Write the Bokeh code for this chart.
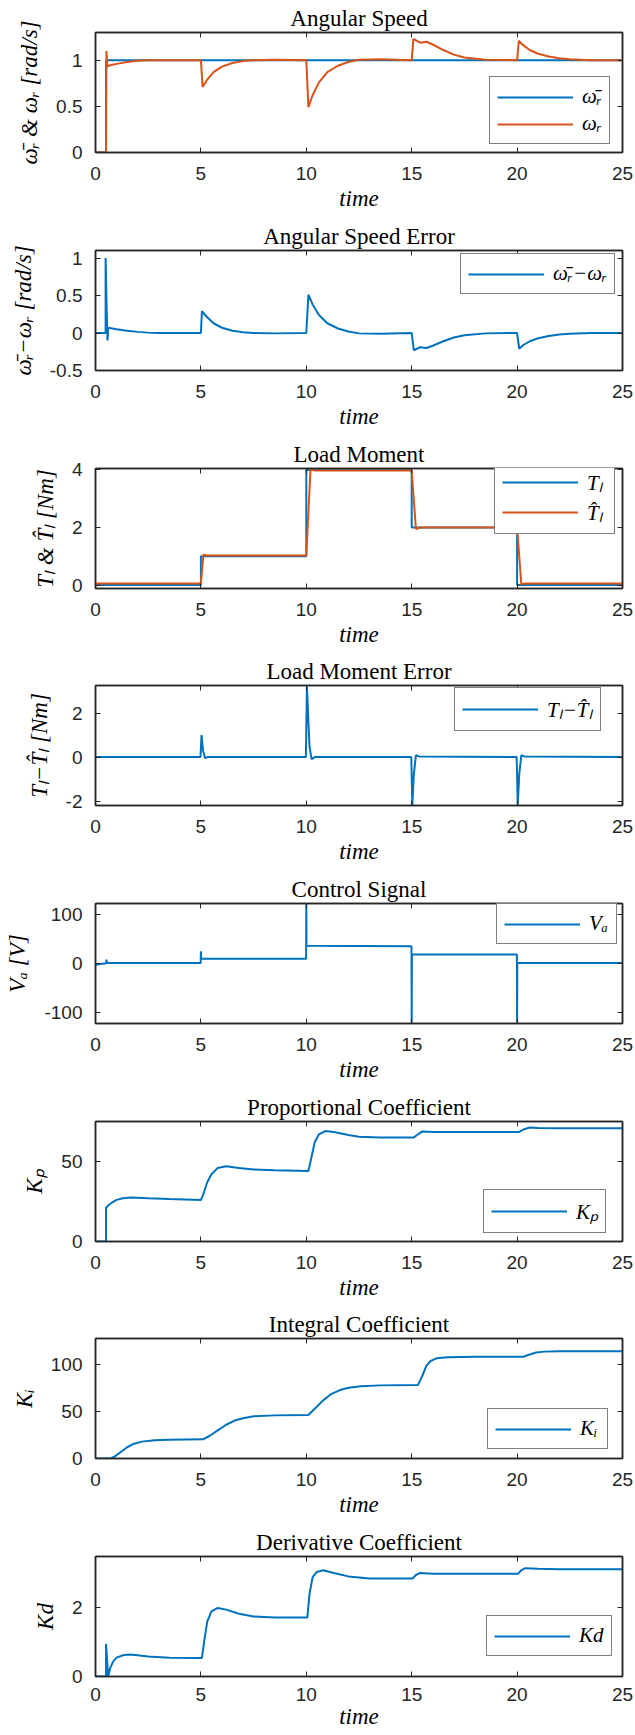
from bokeh.plotting import figure
from bokeh.models import Range1d, FixedTicker, LinearAxis, Legend, LegendItem
from bokeh.layouts import column
from bokeh.embed import file_html
from bokeh.resources import INLINE

BLUE = "#0072BD"
ORANGE = "#D95319"
AX = "#262626"

x_ticks = [0, 5, 10, 15, 20, 25]
x_tick_labels = ["0", "5", "10", "15", "20", "25"]

# ---------------- Panel 1: angular speed ----------------
t_wref = [0, 0.5, 0.5, 25]
wref = [0, 0, 1, 1]
t_w = [0, 0.5, 0.52, 0.56, 0.62, 0.8, 1.0, 1.5, 2.0, 2.5, 3.0, 5.0, 5.08, 5.3, 5.6, 6.0, 6.5, 7.0, 7.5, 8.5,
       10.0, 10.1, 10.3, 10.6, 11.0, 11.5, 12.0, 12.5, 13.5, 15.0, 15.08, 15.4, 15.7, 16.0, 16.5, 17.0, 17.5, 18.5,
       20.0, 20.08, 20.3, 20.6, 21.0, 21.5, 22.0, 22.5, 23.5, 25]
w = [0, 0, 1.1, 0.93, 0.94, 0.95, 0.96, 0.98, 0.995, 1.0, 1.0, 1.0, 0.71, 0.79, 0.87, 0.93, 0.97, 0.99, 1.0, 1.005,
     1.0, 0.49, 0.62, 0.76, 0.87, 0.94, 0.98, 1.005, 1.01, 1.0, 1.23, 1.19, 1.2, 1.17, 1.11, 1.06, 1.03, 1.005,
     1.0, 1.21, 1.16, 1.11, 1.07, 1.04, 1.02, 1.01, 1.0, 1.0]

# ---------------- Panel 2: angular speed error ----------------
t_we = [0, 0.48, 0.48, 0.53, 0.57, 0.6, 0.8, 1.0, 1.5, 2.0, 2.5, 3.0, 5.0, 5.05, 5.3, 5.6, 6.0, 6.5, 7.0, 7.5, 8.5,
        10.0, 10.1, 10.3, 10.6, 11.0, 11.5, 12.0, 12.5, 13.5, 15.0, 15.1, 15.4, 15.7, 16.0, 16.5, 17.0, 17.5, 18.5,
        20.0, 20.1, 20.3, 20.6, 21.0, 21.5, 22.0, 22.5, 23.5, 25]
we = [0, 0, 1.0, 0.3, -0.1, 0.07, 0.06, 0.05, 0.03, 0.015, 0.005, 0, 0, 0.29, 0.21, 0.13, 0.07, 0.03, 0.01, 0, -0.005,
      0, 0.51, 0.38, 0.24, 0.13, 0.06, 0.02, -0.005, -0.01, 0, -0.23, -0.19, -0.2, -0.17, -0.11, -0.06, -0.03, -0.005,
      0, -0.21, -0.16, -0.11, -0.07, -0.04, -0.02, -0.01, 0, 0]

# ---------------- Panel 3: load moment ----------------
t_TL = [0, 5, 5, 10, 10, 15, 15, 20, 20, 25]
TL = [0, 0, 1, 1, 4, 4, 2, 2, 0, 0]
t_TLh = [0, 5.0, 5.12, 5.3, 10.0, 10.2, 10.4, 15.0, 15.2, 15.4, 20.0, 20.2, 20.4, 25]
TLh = [0.05, 0.05, 1.05, 1.03, 1.03, 4.02, 3.98, 3.98, 1.95, 2.0, 2.0, 0.03, 0.05, 0.05]

# ---------------- Panel 4: load moment error ----------------
t_TLe = [0, 4.98, 5.03, 5.1, 5.2, 5.3, 9.98, 10.03, 10.15, 10.25, 10.4, 14.98, 15.03, 15.1, 15.2, 15.35,
         19.98, 20.03, 20.1, 20.2, 20.35, 25]
TLe = [0, 0, 1.0, 0.3, -0.05, 0, 0, 3.2, 0.5, -0.1, 0, 0, -2.2, -0.8, 0.08, 0.03,
       0, -2.2, -0.8, 0.08, 0.03, 0]

# ---------------- Panel 5: control signal ----------------
t_Va = [0, 0.2, 0.45, 0.5, 0.52, 0.55, 0.6, 1.0, 4.99, 5.0, 5.01, 5.05, 9.99, 10.0, 10.01, 10.05, 12.5, 14.99,
        15.0, 15.01, 15.05, 19.99, 20.0, 20.01, 20.05, 25]
Va = [-3, -1, 0, 0, 8, 1, 1, 1, 1, 25, 10, 9.5, 9.5, 123, 37, 36.5, 36, 35.5,
      -123, 19, 18.5, 18.5, -123, 1, 1, 1]

# ---------------- Panel 6: proportional coefficient ----------------
t_Kp = [0, 0.5, 0.5, 0.6, 0.8, 1.0, 1.3, 1.7, 2.5, 3.5, 5.0, 5.1, 5.3, 5.5, 5.8, 6.2, 6.8, 7.5, 8.5,
        10.1, 10.2, 10.4, 10.6, 10.9, 11.3, 12.0, 12.5, 13.5, 15.1, 15.3, 15.5, 16.0, 17.0,
        20.1, 20.3, 20.6, 21.0, 22.0, 25]
Kp = [0, 0, 21, 22.5, 24.5, 26, 27, 27.5, 27, 26.5, 26, 29, 37, 42, 46, 47, 46, 45, 44.5,
      44, 50, 62, 67, 69, 68.5, 66.5, 65.5, 65, 65, 67, 68.8, 68.5, 68.5,
      68.5, 70, 71.2, 71, 70.8, 70.8]

# ---------------- Panel 7: integral coefficient ----------------
t_Ki = [0, 0.7, 0.9, 1.2, 1.5, 1.8, 2.2, 2.8, 3.5, 5.1, 5.4, 5.8, 6.2, 6.6, 7.0, 7.5, 8.5,
        10.1, 10.4, 10.8, 11.2, 11.6, 12.0, 12.6, 13.5, 15.3, 15.5, 15.7, 15.9, 16.2, 16.7, 18.0,
        20.3, 20.6, 20.9, 21.3, 22.0, 25]
Ki = [0, 0, 2, 7, 12, 15.5, 18, 19.5, 20, 20.5, 24, 30, 36, 40.5, 43, 45, 46,
      46.5, 53, 62, 69, 73, 75.5, 77, 78, 78.5, 88, 99, 104, 107, 108, 108.5,
      108.5, 111, 113, 114, 114.5, 114.5]

# ---------------- Panel 8: derivative coefficient ----------------
t_Kd = [0, 0.5, 0.5, 0.6, 0.7, 0.85, 1.0, 1.3, 1.6, 2.0, 2.5, 3.5, 5.05, 5.15, 5.3, 5.5, 5.8, 6.2, 6.8, 7.5, 8.5,
        10.05, 10.15, 10.3, 10.5, 10.8, 11.3, 12.0, 13.0, 15.05, 15.2, 15.4, 16.0, 17.0,
        20.05, 20.2, 20.4, 21.0, 22.0, 25]
Kd = [0, 0, 0.95, 0, 0.25, 0.45, 0.55, 0.62, 0.64, 0.62, 0.58, 0.55, 0.54, 1.0, 1.6, 1.9, 2.0, 1.95, 1.83, 1.75, 1.72,
      1.72, 2.4, 2.9, 3.05, 3.1, 3.02, 2.92, 2.86, 2.86, 2.96, 3.02, 3.0, 3.0,
      3.0, 3.1, 3.16, 3.14, 3.13, 3.13]

FRAME_H = 120
TOP = 32


def style_axis(ax, ticks, labels, show, standoff):
    ax.ticker = FixedTicker(ticks=ticks)
    ax.major_label_overrides = {tk: (lb if show else "") for tk, lb in zip(ticks, labels)}
    ax.major_tick_in = 5
    ax.major_tick_out = 0
    ax.minor_tick_in = 0
    ax.minor_tick_out = 0
    ax.major_tick_line_color = AX
    ax.major_tick_line_width = 1
    ax.axis_line_color = AX
    ax.axis_line_width = 1.5
    ax.major_label_text_font = "Liberation Sans"
    ax.major_label_text_font_size = "19px"
    ax.major_label_text_color = AX
    ax.major_label_standoff = standoff if show else 0


def make_panel(title, ylabel, ylim, yticks, ylabels, series, leg_xy, height, last=False):
    p = figure(width=634, height=height, x_range=Range1d(0, 25), y_range=Range1d(*ylim),
               output_backend="svg", toolbar_location=None,
               min_border_left=95, min_border_right=12, min_border_top=TOP,
               min_border_bottom=height - TOP - FRAME_H)
    p.grid.visible = False
    p.outline_line_color = AX
    p.outline_line_width = 1.5
    p.background_fill_color = "white"
    p.border_fill_color = "white"

    bottom = p.below[0]
    style_axis(bottom, x_ticks, x_tick_labels, True, 11 if last else 14)
    style_axis(p.left[0], yticks, ylabels, True, 13)
    top = LinearAxis()
    right = LinearAxis()
    style_axis(top, x_ticks, x_tick_labels, False, 0)
    style_axis(right, yticks, ylabels, False, 0)
    p.add_layout(top, "above")
    p.add_layout(right, "right")

    # title drawn as the label of the top axis
    top.axis_label = title
    top.axis_label_text_font = "Liberation Serif"
    top.axis_label_text_font_style = "normal"
    top.axis_label_text_font_size = "23px"
    top.axis_label_text_color = "black"
    top.axis_label_standoff = 2

    bottom.axis_label = "time"
    bottom.axis_label_text_font = "Liberation Serif"
    bottom.axis_label_text_font_style = "italic"
    bottom.axis_label_text_font_size = "23px"
    bottom.axis_label_text_color = "black"
    bottom.axis_label_standoff = 0 if last else 3

    yax = p.left[0]
    yax.axis_label = ylabel
    yax.axis_label_text_font = "Liberation Serif"
    yax.axis_label_text_font_style = "italic"
    yax.axis_label_text_font_size = "23px"
    yax.axis_label_text_color = "black"
    yax.axis_label_standoff = 11

    items = []
    for (tx, vy, col, lab) in series:
        r = p.line(tx, vy, line_color=col, line_width=2)
        items.append(LegendItem(label=lab, renderers=[r]))
    leg = Legend(items=items, location=leg_xy)
    leg.label_text_font = "Liberation Serif"
    leg.label_text_font_style = "italic"
    leg.label_text_font_size = "21px"
    leg.label_text_color = "black"
    leg.glyph_width = 76
    leg.glyph_height = 20
    leg.label_height = 20
    leg.label_standoff = 9
    leg.spacing = 2
    leg.padding = 7
    leg.margin = 0
    leg.border_line_color = "black"
    leg.border_line_width = 1.3
    leg.background_fill_color = "white"
    leg.background_fill_alpha = 1.0
    p.add_layout(leg)
    return p


p1 = make_panel("Angular Speed", "ω̄ᵣ & ωᵣ [rad/s]", (0, 1.3), [0, 0.5, 1], ["0", "0.5", "1"],
                [(t_wref, wref, BLUE, "ω̄ᵣ"), (t_w, w, ORANGE, "ωᵣ")], (394, 8), 218)
p2 = make_panel("Angular Speed Error", "ω̄ᵣ−ωᵣ [rad/s]", (-0.5, 1.1), [-0.5, 0, 0.5, 1], ["-0.5", "0", "0.5", "1"],
                [(t_we, we, BLUE, "ω̄ᵣ−ωᵣ")], (365, 76), 218)
p3 = make_panel("Load Moment", "Tₗ & T̂ₗ [Nm]", (-0.12, 4.05), [0, 2, 4], ["0", "2", "4"],
                [(t_TL, TL, BLUE, "Tₗ"), (t_TLh, TLh, ORANGE, "T̂ₗ")], (399, 54), 217)
p4 = make_panel("Load Moment Error", "Tₗ−T̂ₗ [Nm]", (-2.2, 3.25), [-2, 0, 2], ["-2", "0", "2"],
                [(t_TLe, TLe, BLUE, "Tₗ−T̂ₗ")], (359, 74), 218)
p5 = make_panel("Control Signal", "Vₐ [V]", (-123, 123), [-100, 0, 100], ["-100", "0", "100"],
                [(t_Va, Va, BLUE, "Vₐ")], (401, 79), 218)
p6 = make_panel("Proportional Coefficient", "Kₚ", (0, 75), [0, 50], ["0", "50"],
                [(t_Kp, Kp, BLUE, "Kₚ")], (388, 8), 217)
p7 = make_panel("Integral Coefficient", "Kᵢ", (0, 128), [0, 50, 100], ["0", "50", "100"],
                [(t_Ki, Ki, BLUE, "Kᵢ")], (392, 9), 218)
p8 = make_panel("Derivative Coefficient", "Kd", (0, 3.5), [0, 2], ["0", "2"],
                [(t_Kd, Kd, BLUE, "Kd")], (391, 20), 210, last=True)

layout = column(p1, p2, p3, p4, p5, p6, p7, p8, spacing=0)
open("out.html", "w").write(file_html(layout, INLINE))
